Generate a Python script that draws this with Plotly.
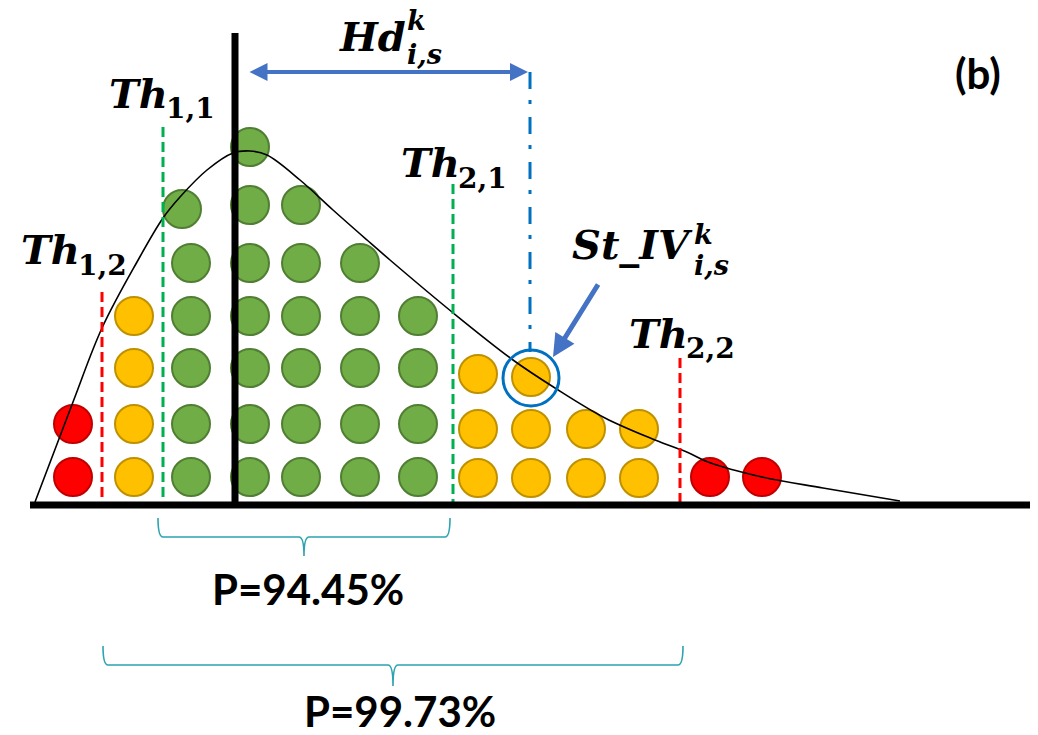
import plotly.graph_objects as go

# ---------------- data (pixel-space diagram) ----------------
green_x = [182, 191, 191, 191, 191, 191,
           250, 250, 250, 250, 250, 250, 250,
           301, 301, 301, 301, 301, 301,
           360, 360, 360, 360, 360,
           418, 418, 418, 418]
green_y = [209, 263, 316, 368, 424, 477,
           147, 205, 263, 316, 368, 424, 477,
           205, 263, 316, 368, 424, 477,
           263, 316, 368, 424, 477,
           316, 368, 424, 477]
yellow_x = [134, 134, 134, 134, 478, 478, 478, 531, 531, 531, 586, 586, 639, 639]
yellow_y = [316, 368, 424, 477, 374, 429, 478, 377, 429, 478, 429, 478, 429, 478]
red_x = [73, 73, 710, 762]
red_y = [424, 477, 477, 477]

curve_x = [35, 73, 102, 137, 163, 180, 207, 233, 250, 267, 300, 333, 367, 390,
           452, 513, 555, 605, 655, 689, 708, 762, 823, 900]
curve_y = [502, 402, 328, 262, 218, 197, 170, 153, 151, 155, 180, 210, 240, 260,
           312, 360, 388, 418, 440, 453, 462, 477, 488, 501]

# threshold lines: x, top y, colour
thr_x = [102, 163, 453, 680]
thr_top = [292, 127, 184, 358]
thr_col = ["#FF0000", "#00B050", "#00B050", "#FF0000"]

base_y = 505
axis_x = 235
axis_top = 33

# labels
lab_main = ["Th", "Th", "Th", "Th", "Hd", "St_IV"]
lab_right = [170, 82, 462, 690, 408, 695]
lab_cy = [93, 249, 162, 333, 36, 244]
lab_sub = ["1,1", "1,2", "2,1", "2,2", "<i>i,s</i>", "<i>i,s</i>"]
lab_sub_size = [28, 28, 28, 28, 27, 27]
lab_sub_dx = [-6, -6, -6, -6, -3, -3]
lab_sub_cy = [108, 265, 178, 348, 54, 265]
lab_sup = ["", "", "", "", "<i>k</i>", "<i>k</i>"]
lab_sup_cy = [0, 0, 0, 0, 20, 234]

# Hd arrow and St_IV marker
hd_x = [248, 528]
hd_y = 72
hd_line_x = 530
hd_line_bottom = 352
st_circle = (531, 378, 28)
st_arrow_tail = (599, 283)
st_arrow_tip = (553, 357)

# braces
brace_l = [158, 103]
brace_r = [450, 683]
brace_top = [518, 646]
brace_line = [537, 665]
brace_tip = [556, 686]
brace_text = ["P=94.45%", "P=99.73%"]
brace_text_y = [589, 711]
brace_text_x = [308, 400]

# ---------------- figure ----------------
fig = go.Figure()

def dots(xs, ys, fill, edge):
    fig.add_trace(go.Scatter(x=xs, y=ys, mode="markers",
                             marker=dict(size=38, color=fill, line=dict(color=edge, width=2)),
                             hoverinfo="skip", showlegend=False))

dots(green_x, green_y, "#70AD47", "#507E32")
dots(yellow_x, yellow_y, "#FFC000", "#BF9000")
dots(red_x, red_y, "#FF0000", "#C00000")

fig.add_trace(go.Scatter(x=curve_x, y=curve_y, mode="lines",
                         line=dict(color="black", width=1.6, shape="spline", smoothing=1.0),
                         hoverinfo="skip", showlegend=False))

shapes = []
for x, t, c in zip(thr_x, thr_top, thr_col):
    shapes.append(dict(type="line", x0=x, x1=x, y0=t, y1=base_y - 3, xref="x", yref="y",
                       line=dict(color=c, width=3, dash="10px,5px"), layer="above"))
shapes.append(dict(type="line", x0=hd_line_x, x1=hd_line_x, y0=hd_y, y1=hd_line_bottom,
                   xref="x", yref="y", line=dict(color="#0070C0", width=3, dash="17px,11px,4px,13px"),
                   layer="above"))
shapes.append(dict(type="line", x0=30, x1=1030, y0=base_y, y1=base_y, xref="x", yref="y",
                   line=dict(color="black", width=7), layer="above"))
shapes.append(dict(type="line", x0=axis_x, x1=axis_x, y0=axis_top, y1=base_y, xref="x", yref="y",
                   line=dict(color="black", width=7), layer="above"))
cx, cy, r = st_circle
shapes.append(dict(type="circle", x0=cx - r, x1=cx + r, y0=cy - r, y1=cy + r, xref="x", yref="y",
                   line=dict(color="#0070C0", width=3), layer="above"))
for x0, x1, yt, yl, yp in zip(brace_l, brace_r, brace_top, brace_line, brace_tip):
    xm = (x0 + x1) / 2
    rr = 5
    path = (f"M {x0},{yt} Q {x0},{yl} {x0 + rr},{yl} L {xm - rr},{yl} "
            f"Q {xm},{yl} {xm},{yp} Q {xm},{yl} {xm + rr},{yl} L {x1 - rr},{yl} "
            f"Q {x1},{yl} {x1},{yt}")
    shapes.append(dict(type="path", path=path, xref="x", yref="y",
                       line=dict(color="#2BA3B0", width=1.6)))

anns = []
serif = "DejaVu Serif"
for m, xr, cyy, sb, sbs, sdx, sbc, sp, spc in zip(lab_main, lab_right, lab_cy, lab_sub, lab_sub_size,
                                                  lab_sub_dx, lab_sub_cy, lab_sup, lab_sup_cy):
    anns.append(dict(x=xr, y=cyy, xref="x", yref="y", text=f"<b><i>{m}</i></b>", showarrow=False,
                     xanchor="right", yanchor="middle", font=dict(family=serif, size=40, color="black")))
    anns.append(dict(x=xr + sdx, y=sbc, xref="x", yref="y", text=f"<b>{sb}</b>", showarrow=False,
                     xanchor="left", yanchor="middle", font=dict(family=serif, size=sbs, color="black")))
    if sp:
        anns.append(dict(x=xr + sdx, y=spc, xref="x", yref="y", text=f"<b>{sp}</b>", showarrow=False,
                         xanchor="left", yanchor="middle", font=dict(family=serif, size=sbs, color="black")))

anns.append(dict(x=hd_x[1], y=hd_y, ax=hd_x[0], ay=hd_y, xref="x", yref="y", axref="x", ayref="y",
                 text="", showarrow=True, arrowside="end+start", arrowhead=2, arrowsize=0.9,
                 arrowwidth=4, arrowcolor="#4472C4"))
anns.append(dict(x=st_arrow_tip[0], y=st_arrow_tip[1], ax=st_arrow_tail[0], ay=st_arrow_tail[1],
                 xref="x", yref="y", axref="x", ayref="y", text="", showarrow=True,
                 arrowhead=2, arrowsize=0.9, arrowwidth=5, arrowcolor="#4472C4"))

for t, x, y in zip(brace_text, brace_text_x, brace_text_y):
    anns.append(dict(x=x, y=y, xref="x", yref="y", text=f"<b>{t}</b>", showarrow=False,
                     xanchor="center", yanchor="middle", font=dict(family="Lato", size=42, color="black")))
anns.append(dict(x=978, y=73, xref="x", yref="y", text="<b>(b)</b>", showarrow=False,
                 xanchor="center", yanchor="middle", font=dict(family="Lato", size=42, color="black")))

fig.update_layout(
    width=1038, height=735,
    margin=dict(l=0, r=0, t=0, b=0),
    paper_bgcolor="white", plot_bgcolor="white",
    xaxis=dict(range=[0, 1038], visible=False, fixedrange=True),
    yaxis=dict(range=[735, 0], visible=False, fixedrange=True),
    shapes=shapes, annotations=anns, showlegend=False,
)

fig.write_html("out.html", config={"displayModeBar": False},
               post_script="document.body.style.margin='0';document.body.style.overflow='hidden';")
